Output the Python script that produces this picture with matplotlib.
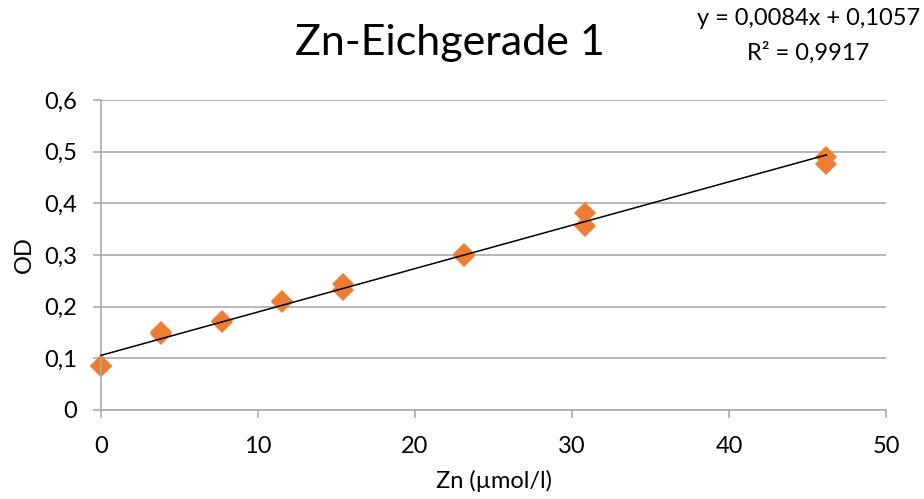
import matplotlib.pyplot as plt
import numpy as np

plt.rcParams['font.family'] = ['Lato', 'DejaVu Sans']

# Messpunkte (Doppelbestimmung)
zn = [0, 0, 3.85, 3.85, 7.7, 7.7, 11.55, 11.55, 15.4, 15.4,
      23.1, 23.1, 30.8, 30.8, 46.2, 46.2]
od = [0.085, 0.086, 0.148, 0.150, 0.171, 0.173, 0.209, 0.211, 0.244, 0.232,
      0.299, 0.301, 0.381, 0.357, 0.490, 0.476]

slope = 0.0084
intercept = 0.1057
r2 = 0.9917

fig = plt.figure(figsize=(9.24, 4.99), dpi=100)
ax = fig.add_axes([0.1093, 0.1784, 0.8497, 0.6212])

xfit = np.array([0, max(zn)])
ax.plot(xfit, slope * xfit + intercept, color='black', lw=1.1, zorder=3, clip_on=False)
ax.plot(zn, od, 'D', color='#ED7D31', markersize=11, markeredgewidth=0, zorder=2,
        clip_on=False)

ax.set_xlim(0, 50)
ax.set_ylim(0, 0.6)
ax.set_xticks([0, 10, 20, 30, 40, 50])
ax.set_yticks(np.arange(0, 0.61, 0.1))
ax.set_yticklabels(['0', '0,1', '0,2', '0,3', '0,4', '0,5', '0,6'])
ax.yaxis.grid(True, color='#ababab', lw=1.2)
ax.set_axisbelow(True)
for s in ['top', 'right']:
    ax.spines[s].set_visible(False)
for s in ['left', 'bottom']:
    ax.spines[s].set_color('#ababab')
    ax.spines[s].set_linewidth(1.2)
ax.tick_params(axis='both', colors='#ababab', width=1.2, length=6, labelsize=17,
               labelcolor='black')
ax.tick_params(axis='y', pad=11)
ax.tick_params(axis='x', pad=13)

ax.set_xlabel('Zn (µmol/l)', fontsize=17, labelpad=9)
ax.set_ylabel('OD', fontsize=17, labelpad=7)

fig.text(0.487, 0.913, 'Zn-Eichgerade 1', fontsize=31, ha='center', va='center')
fig.text(0.875, 0.963, 'y = 0,0084x + 0,1057', fontsize=17, ha='center', va='center')
fig.text(0.875, 0.895, 'R² = 0,9917', fontsize=17, ha='center', va='center')

fig.savefig('out.png', dpi=100)
